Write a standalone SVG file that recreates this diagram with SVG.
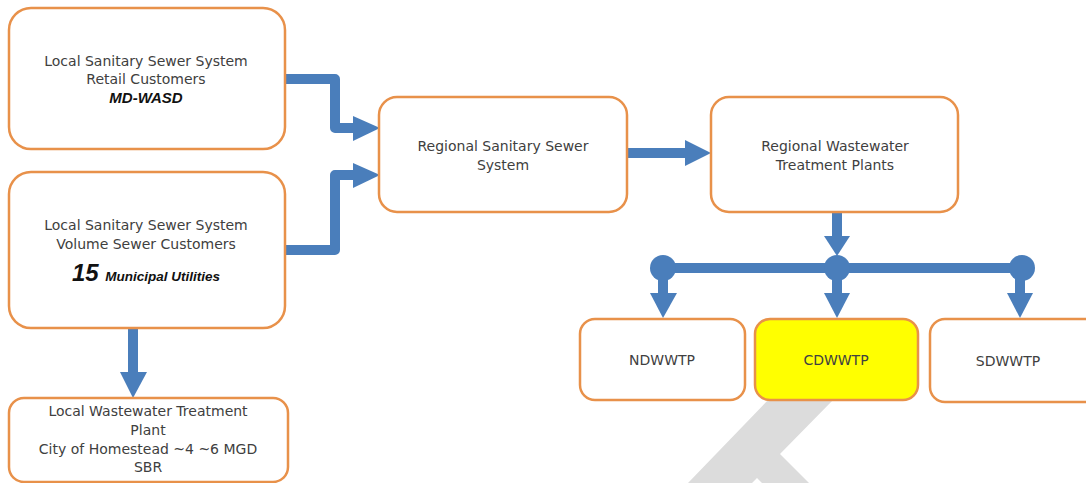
<svg xmlns="http://www.w3.org/2000/svg" width="1086" height="483" viewBox="0 0 1086 483">
<style>
.box{fill:#fff;stroke:#e8914a;stroke-width:2.5}
.t{font-family:"DejaVu Sans","Liberation Sans",Arial,sans-serif;font-size:14px;fill:#404040;text-anchor:middle}
.bi{font-family:"Liberation Sans",Arial,sans-serif;font-weight:bold;font-style:italic;fill:#111;text-anchor:middle}
.ln{fill:none;stroke:#4a7ebb;stroke-width:10;stroke-linejoin:round}
.hd{fill:#4a7ebb}
</style>
<polygon points="768,400 833,400 780,454 809,483 762,483 757,478 752,483 688,483" fill="#dcdcdc"/>
<g id="connectors">
<polyline class="ln" points="285,79 335,79 335,128 355,128"/>
<polygon class="hd" points="353,116 380,128 353,141"/>
<polyline class="ln" points="285,250 335,250 335,175 355,175"/>
<polygon class="hd" points="353,163 380,175 353,188"/>
<line class="ln" x1="627" y1="153" x2="688" y2="153"/>
<polygon class="hd" points="685,140 711,153 685,166"/>
<line class="ln" x1="837" y1="212" x2="837" y2="238"/>
<polygon class="hd" points="824,236 850,236 837,256"/>
<line class="ln" x1="663" y1="268" x2="1022" y2="268"/>
<circle class="hd" cx="663" cy="268" r="13"/>
<circle class="hd" cx="837" cy="268" r="13"/>
<circle class="hd" cx="1022" cy="268" r="13"/>
<line class="ln" x1="663" y1="268" x2="663" y2="295"/>
<polygon class="hd" points="650,293 677,293 663,318"/>
<line class="ln" x1="837" y1="268" x2="837" y2="295"/>
<polygon class="hd" points="824,293 850,293 837,318"/>
<line class="ln" x1="1020" y1="268" x2="1020" y2="295"/>
<polygon class="hd" points="1007,293 1033,293 1020,318"/>
<line class="ln" x1="133" y1="328" x2="133" y2="374"/>
<polygon class="hd" points="120,372 147,372 133,398"/>
</g>
<g id="n-retail">
<rect class="box" x="9" y="8" width="276" height="141" rx="22"/>
<text class="t" x="146" y="66">Local Sanitary  Sewer System</text>
<text class="t" x="146" y="84">Retail Customers</text>
<text class="bi" x="146" y="103" font-size="15">MD-WASD</text>
</g>
<g id="n-volume">
<rect class="box" x="9" y="172" width="276" height="156" rx="22"/>
<text class="t" x="146" y="230">Local Sanitary  Sewer System</text>
<text class="t" x="146" y="249">Volume Sewer Customers</text>
<text class="bi" x="146" y="281"><tspan font-size="24">15 </tspan><tspan font-size="13.5">Municipal Utilities</tspan></text>
</g>
<g id="n-local-wwtp">
<rect class="box" x="9" y="398" width="279" height="84" rx="15"/>
<text class="t" x="148" y="416">Local Wastewater Treatment</text>
<text class="t" x="148" y="435">Plant</text>
<text class="t" x="148" y="454">City of Homestead ~4 ~6 MGD</text>
<text class="t" x="148" y="472">SBR</text>
</g>
<g id="n-regional-sewer">
<rect class="box" x="379" y="97" width="248" height="115" rx="18"/>
<text class="t" x="503" y="151">Regional Sanitary  Sewer</text>
<text class="t" x="503" y="170">System</text>
</g>
<g id="n-regional-wwtp">
<rect class="box" x="711" y="97" width="247" height="115" rx="18"/>
<text class="t" x="835" y="151">Regional Wastewater</text>
<text class="t" x="835" y="170">Treatment Plants</text>
</g>
<g id="n-ndwwtp">
<rect class="box" x="580" y="319" width="165" height="81" rx="15"/>
<text class="t" x="662" y="365">NDWWTP</text>
</g>
<g id="n-cdwwtp">
<rect class="box" x="755" y="319" width="163" height="81" rx="15" style="fill:#ffff00"/>
<text class="t" x="836" y="365">CDWWTP</text>
</g>
<g id="n-sdwwtp">
<rect class="box" x="930" y="319" width="170" height="83" rx="15"/>
<text class="t" x="1008" y="366">SDWWTP</text>
</g>
</svg>
